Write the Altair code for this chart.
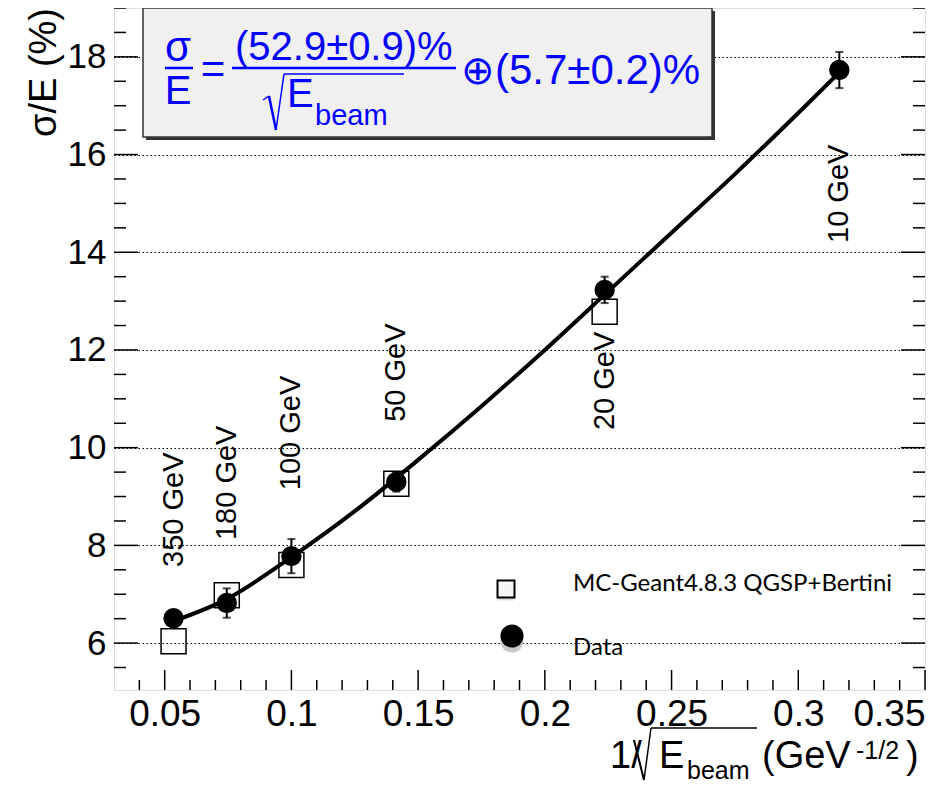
import altair as alt
import pandas as pd

# ---------------- data ----------------
energies = ["350 GeV", "180 GeV", "100 GeV", "50 GeV", "20 GeV", "10 GeV"]
x_inv_sqrt = [0.0535, 0.0745, 0.1, 0.1414, 0.2236, 0.3162]
data_sigma = [6.51, 6.82, 7.78, 9.30, 13.23, 17.73]
data_err = [0.15, 0.30, 0.35, 0.20, 0.27, 0.37]
label_y = [7.56, 8.11, 9.13, 10.53, 10.36, 14.19]

mc_x = [0.0535, 0.0745, 0.1, 0.1414, 0.2236]
mc_sigma = [6.04, 6.98, 7.60, 9.26, 12.78]

fit_x = [0.0535, 0.0745, 0.1, 0.125, 0.15, 0.175, 0.2, 0.225, 0.25, 0.275, 0.3, 0.3162]
fit_y = [6.45, 6.90, 7.76, 8.70, 9.75, 10.85, 12.0, 13.2, 14.4, 15.6, 16.85, 17.68]

y_major = [6, 8, 10, 12, 14, 16, 18]
y_minor = [5.5, 6.5, 7, 7.5, 8.5, 9, 9.5, 10.5, 11, 11.5, 12.5, 13, 13.5,
           14.5, 15, 15.5, 16.5, 17, 17.5, 18.5, 19]
x_major = [0.05, 0.1, 0.15, 0.2, 0.25, 0.3, 0.35]
x_minor = [0.04, 0.06, 0.07, 0.08, 0.09, 0.11, 0.12, 0.13, 0.14, 0.16, 0.17,
           0.18, 0.19, 0.21, 0.22, 0.23, 0.24, 0.26, 0.27, 0.28, 0.29, 0.31,
           0.32, 0.33, 0.34]

legend_labels = ["MC-Geant4.8.3 QGSP+Bertini", "Data"]

# ---------------- layout ----------------
W, H = 811, 682
FONT = "Liberation Sans"
BLUE = "#0000ff"

xs = alt.Scale(domain=[0.03, 0.35], nice=False, zero=False)
ys = alt.Scale(domain=[5.04, 19.0], nice=False, zero=False)

xaxis = alt.Axis(values=x_major, format=".2~f", title=None, grid=False,
                 ticks=False, domain=False, labelFont=FONT, labelFontSize=37,
                 labelColor="black", labelPadding=6, labelFlush=True)
yaxis = alt.Axis(values=y_major, format="d", title=None, grid=True,
                 gridColor="black", gridDash=[1.5, 2.5], gridWidth=1.2,
                 gridOpacity=1, ticks=False, domain=False, labelFont=FONT,
                 labelFontSize=35, labelColor="black", labelPadding=8)

X = alt.X("x:Q", scale=xs, axis=xaxis)
Y = alt.Y("y:Q", scale=ys, axis=yaxis)

df = pd.DataFrame({
    "x": x_inv_sqrt, "y": data_sigma,
    "lo": [v - e for v, e in zip(data_sigma, data_err)],
    "hi": [v + e for v, e in zip(data_sigma, data_err)],
    "label": energies, "ly": label_y,
})
mc = pd.DataFrame({"x": mc_x, "y": mc_sigma})
fit = pd.DataFrame({"x": fit_x, "y": fit_y})

one = pd.DataFrame({"a": [0]})


def txt(t, x, y, size, color="black", font=FONT, align="left",
        baseline="alphabetic", angle=0, weight="normal"):
    return alt.Chart(one).mark_text(
        text=t, fontSize=size, color=color, font=font, align=align,
        baseline=baseline, angle=angle, fontWeight=weight
    ).encode(x=alt.value(x), y=alt.value(y))


def seg(x1, y1, x2, y2, w=2, color="black"):
    return alt.Chart(one).mark_rule(strokeWidth=w, color=color).encode(
        x=alt.value(x1), y=alt.value(y1), x2=alt.value(x2), y2=alt.value(y2))


# ---------------- ticks (inward, ROOT style) ----------------
ymaj = pd.DataFrame({"y": y_major})
ymin = pd.DataFrame({"y": y_minor})
xmaj = pd.DataFrame({"x": x_major})
xmin = pd.DataFrame({"x": x_minor})

tick_layers = [
    alt.Chart(ymaj).mark_rule(color="black", strokeWidth=1.5).encode(y=Y, x=alt.value(0), x2=alt.value(24)),
    alt.Chart(ymin).mark_rule(color="black", strokeWidth=1.5).encode(y=Y, x=alt.value(0), x2=alt.value(12)),
    alt.Chart(ymaj).mark_rule(color="black", strokeWidth=1.5).encode(y=Y, x=alt.value(W - 24), x2=alt.value(W)),
    alt.Chart(ymin).mark_rule(color="black", strokeWidth=1.5).encode(y=Y, x=alt.value(W - 12), x2=alt.value(W)),
    alt.Chart(xmaj).mark_rule(color="black", strokeWidth=1.5).encode(x=X, y=alt.value(H - 20), y2=alt.value(H)),
    alt.Chart(xmin).mark_rule(color="black", strokeWidth=1.5).encode(x=X, y=alt.value(H - 10), y2=alt.value(H)),
]

# ---------------- data marks ----------------
squares = alt.Chart(mc).mark_square(filled=False, color="black", size=625,
                                    strokeWidth=1.5, opacity=1).encode(x=X, y=Y)
curve = alt.Chart(fit).mark_line(color="black", strokeWidth=4,
                                 interpolate="monotone").encode(x=X, y=Y)
errbar = alt.Chart(df).mark_rule(color="black", strokeWidth=2).encode(
    x=X, y=alt.Y("lo:Q", scale=ys, axis=yaxis), y2="hi:Q")
cap_lo = alt.Chart(df).mark_tick(orient="horizontal", size=8, thickness=2,
                                 color="black").encode(x=X, y=alt.Y("lo:Q", scale=ys, axis=yaxis))
cap_hi = alt.Chart(df).mark_tick(orient="horizontal", size=8, thickness=2,
                                 color="black").encode(x=X, y=alt.Y("hi:Q", scale=ys, axis=yaxis))
dots = alt.Chart(df).mark_circle(color="black", size=415, opacity=1).encode(x=X, y=Y)
elabels = alt.Chart(df).mark_text(font=FONT, fontSize=29, angle=270,
                                  align="left", baseline="middle",
                                  color="black").encode(
    x=X, y=alt.Y("ly:Q", scale=ys, axis=yaxis), text="label:N")

# ---------------- legend ----------------
legend = [
    alt.Chart(one).mark_square(filled=True, color="#d0d0d0", size=289).encode(x=alt.value(392), y=alt.value(584)),
    alt.Chart(one).mark_square(filled=True, color="white", size=289).encode(x=alt.value(392), y=alt.value(581)),
    alt.Chart(one).mark_square(filled=False, color="black", size=289, strokeWidth=2, opacity=1).encode(x=alt.value(392), y=alt.value(581)),
    txt(legend_labels[0], 459, 583, 24, font="Lato"),
    alt.Chart(one).mark_circle(color="#c8c8c8", size=531, opacity=1).encode(x=alt.value(398), y=alt.value(633)),
    alt.Chart(one).mark_circle(color="black", size=531, opacity=1).encode(x=alt.value(398), y=alt.value(628)),
    txt(legend_labels[1], 459, 647, 24, font="Lato"),
]

# ---------------- formula box ----------------
box = [
    alt.Chart(one).mark_rect(fill="#333333").encode(x=alt.value(32), x2=alt.value(601), y=alt.value(3), y2=alt.value(132)),
    alt.Chart(one).mark_rect(fill="#f0f0f0", stroke="#333333", strokeWidth=1.5).encode(
        x=alt.value(29), x2=alt.value(598), y=alt.value(0), y2=alt.value(129)),
    txt("σ", 64, 53, 42, BLUE, align="center"),
    seg(51, 60, 79, 60, 2.5, BLUE),
    txt("E", 64, 96, 40, BLUE, align="center"),
    txt("=", 99, 75, 42, BLUE, align="center"),
    txt("(52.9±0.9)%", 121, 52, 40, BLUE),
    seg(118, 60, 342, 60, 2.5, BLUE),
    seg(149, 92, 155, 88, 1.5, BLUE),
    seg(155, 88, 162, 122, 2.5, BLUE),
    seg(162, 122, 170, 66, 1.5, BLUE),
    seg(170, 66, 290, 66, 1.5, BLUE),
    txt("E", 173, 99, 40, BLUE),
    txt("beam", 201, 117, 29, BLUE),
    txt("⊕", 364, 76, 40, BLUE, font="DejaVu Sans", align="center", weight=200),
    txt("(5.7±0.2)%", 381, 76, 42, BLUE),
]

# ---------------- axis titles ----------------
titles = [
    txt("σ/E (%)", -69, 0, 38, align="right", baseline="middle", angle=270),
    txt("1/", 496, 760, 38),
    seg(520, 732, 530, 772, 2),
    seg(530, 772, 537, 720, 1.5),
    seg(537, 720, 643, 720, 1.5),
    txt("E", 545, 760, 38),
    txt("beam", 573, 771, 25),
    txt("(GeV", 648, 760, 38),
    txt("-1/2", 742, 751, 25),
    txt(")", 792, 760, 38),
]

chart = alt.layer(
    *tick_layers, squares, curve, errbar, cap_lo, cap_hi, dots, elabels,
    *legend, *box, *titles
).properties(
    width=W, height=H,
    autosize=alt.AutoSizeParams(type="none"),
    padding={"left": 106, "top": 0, "right": 11, "bottom": 95},
).configure_view(stroke="black", strokeWidth=2).configure(background="white")

chart.save("out.html", embed_options={"renderer": "svg", "actions": False})
